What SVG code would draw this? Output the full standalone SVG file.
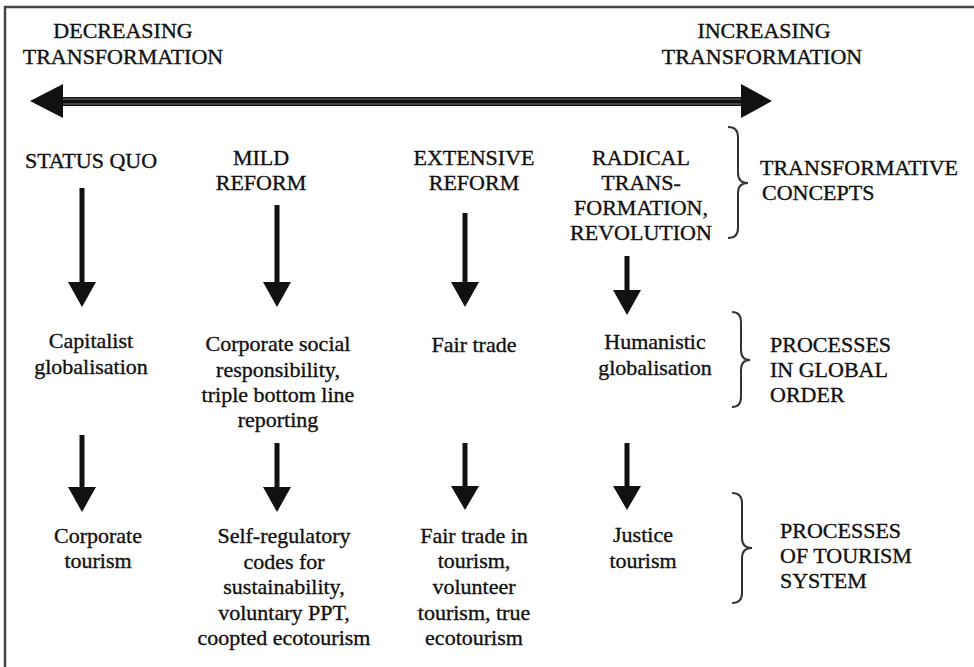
<svg xmlns="http://www.w3.org/2000/svg" width="974" height="667" viewBox="0 0 974 667">
<defs>
<style>
text{font-family:"Liberation Serif","Times New Roman",serif;font-size:22px;fill:#111;stroke:#111;stroke-width:0.35;text-anchor:middle}
.l{text-anchor:start}
.shaft{stroke:#111;stroke-width:5;fill:none}
.head{fill:#111}
.brace{fill:none;stroke:#333;stroke-width:2}
.frame{stroke:#444;stroke-width:2.5;fill:none}
</style>
</defs>
<rect width="974" height="667" fill="#fff"/>
<path class="frame" d="M5,667 L5,7 L974,7"/>

<g id="scale">
<rect x="58" y="97" width="688" height="9" fill="#111"/>
<line x1="58" y1="99" x2="746" y2="99" stroke="#777" stroke-width="1"/>
<line x1="58" y1="104" x2="746" y2="104" stroke="#777" stroke-width="1"/>
<polygon class="head" points="30,101 63,84 63,118"/>
<polygon class="head" points="772,101 741,84 741,118"/>
<text x="123" y="38">DECREASING</text>
<text x="123" y="64">TRANSFORMATION</text>
<text x="764" y="38">INCREASING</text>
<text x="762" y="64">TRANSFORMATION</text>
</g>

<g id="status-quo"><text x="91" y="168">STATUS QUO</text></g>
<g id="mild-reform"><text x="261" y="165">MILD</text><text x="261" y="190">REFORM</text></g>
<g id="extensive-reform"><text x="474" y="165">EXTENSIVE</text><text x="474" y="190">REFORM</text></g>
<g id="radical"><text x="641" y="165">RADICAL</text><text x="641" y="190">TRANS-</text><text x="641" y="215">FORMATION,</text><text x="641" y="240">REVOLUTION</text></g>

<g id="capitalist"><text x="91" y="348">Capitalist</text><text x="91" y="374">globalisation</text></g>
<g id="csr"><text x="278" y="351">Corporate social</text><text x="278" y="377">responsibility,</text><text x="278" y="402">triple bottom line</text><text x="278" y="427">reporting</text></g>
<g id="fair-trade"><text x="474" y="352">Fair trade</text></g>
<g id="humanistic"><text x="655" y="349">Humanistic</text><text x="655" y="375">globalisation</text></g>

<g id="corporate-tourism"><text x="98" y="543">Corporate</text><text x="98" y="568">tourism</text></g>
<g id="self-regulatory"><text x="284" y="543">Self-regulatory</text><text x="284" y="569">codes for</text><text x="284" y="594">sustainability,</text><text x="284" y="620">voluntary PPT,</text><text x="284" y="645">coopted ecotourism</text></g>
<g id="fair-trade-tourism"><text x="474" y="543">Fair trade in</text><text x="474" y="568">tourism,</text><text x="474" y="594">volunteer</text><text x="474" y="620">tourism, true</text><text x="474" y="645">ecotourism</text></g>
<g id="justice-tourism"><text x="643" y="542">Justice</text><text x="643" y="568">tourism</text></g>

<g id="label-concepts">
<path class="brace" d="M728,127 Q738,127 738,137 L738,173 Q738,183 748,183 Q738,183 738,193 L738,228 Q738,238 728,238"/>
<text class="l" x="760" y="175">TRANSFORMATIVE</text><text class="l" x="762" y="200">CONCEPTS</text>
</g>
<g id="label-global">
<path class="brace" d="M732,312 Q741,312 741,322 L741,350 Q741,360 750,360 Q741,360 741,370 L741,397 Q741,407 732,407"/>
<text class="l" x="770" y="352">PROCESSES</text><text class="l" x="770" y="377">IN GLOBAL</text><text class="l" x="770" y="402">ORDER</text>
</g>
<g id="label-tourism">
<path class="brace" d="M732,493 Q742,493 742,503 L742,538 Q742,548 752,548 Q742,548 742,558 L742,593 Q742,603 732,603"/>
<text class="l" x="780" y="538">PROCESSES</text><text class="l" x="780" y="563">OF TOURISM</text><text class="l" x="780" y="588">SYSTEM</text>
</g>

<g id="connectors">
<line class="shaft" x1="82" y1="188" x2="82" y2="285"/><polygon class="head" points="68,282 96,282 82,307"/>
<line class="shaft" x1="277" y1="205" x2="277" y2="285"/><polygon class="head" points="263,282 291,282 277,307"/>
<line class="shaft" x1="465" y1="213" x2="465" y2="285"/><polygon class="head" points="451,282 479,282 465,307"/>
<line class="shaft" x1="627" y1="256" x2="627" y2="293"/><polygon class="head" points="613,290 641,290 627,315"/>
<line class="shaft" x1="82" y1="435" x2="82" y2="490"/><polygon class="head" points="68,487 96,487 82,512"/>
<line class="shaft" x1="277" y1="443" x2="277" y2="490"/><polygon class="head" points="263,487 291,487 277,512"/>
<line class="shaft" x1="465" y1="443" x2="465" y2="490"/><polygon class="head" points="451,486 479,486 465,510"/>
<line class="shaft" x1="627" y1="443" x2="627" y2="490"/><polygon class="head" points="613,486 641,486 627,510"/>
</g>
</svg>
